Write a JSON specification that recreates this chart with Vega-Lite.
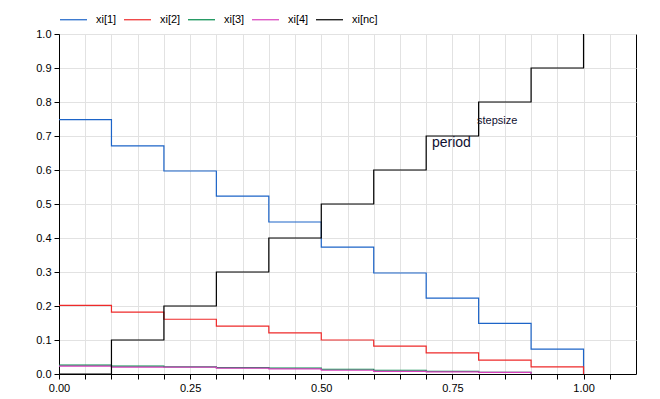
{
  "$schema": "https://vega.github.io/schema/vega-lite/v6.json",
  "width": 577,
  "height": 340,
  "autosize": "none",
  "padding": {"left": 59, "top": 34, "right": 24, "bottom": 25},
  "background": "white",
  "config": {
    "view": {"stroke": "black", "strokeWidth": 1},
    "font": "Liberation Sans",
    "axis": {
      "domainColor": "black",
      "tickColor": "black",
      "gridColor": "#e2e2e2",
      "gridWidth": 1,
      "labelColor": "black",
      "labelFontSize": 11,
      "labelFont": "Liberation Sans",
      "tickSize": 5,
      "title": null
    }
  },
  "datasets": {
    "series": [
      {"s": "xi[1]", "x": 0.0, "y": 0.748},
      {"s": "xi[1]", "x": 0.1, "y": 0.671},
      {"s": "xi[1]", "x": 0.2, "y": 0.597},
      {"s": "xi[1]", "x": 0.3, "y": 0.523},
      {"s": "xi[1]", "x": 0.4, "y": 0.447},
      {"s": "xi[1]", "x": 0.5, "y": 0.373},
      {"s": "xi[1]", "x": 0.6, "y": 0.297},
      {"s": "xi[1]", "x": 0.7, "y": 0.223},
      {"s": "xi[1]", "x": 0.8, "y": 0.149},
      {"s": "xi[1]", "x": 0.9, "y": 0.073},
      {"s": "xi[1]", "x": 1.0, "y": 0.0},
      {"s": "xi[2]", "x": 0.0, "y": 0.202},
      {"s": "xi[2]", "x": 0.1, "y": 0.182},
      {"s": "xi[2]", "x": 0.2, "y": 0.161},
      {"s": "xi[2]", "x": 0.3, "y": 0.141},
      {"s": "xi[2]", "x": 0.4, "y": 0.121},
      {"s": "xi[2]", "x": 0.5, "y": 0.100},
      {"s": "xi[2]", "x": 0.6, "y": 0.082},
      {"s": "xi[2]", "x": 0.7, "y": 0.062},
      {"s": "xi[2]", "x": 0.8, "y": 0.041},
      {"s": "xi[2]", "x": 0.9, "y": 0.021},
      {"s": "xi[2]", "x": 1.0, "y": 0.0},
      {"s": "xi[3]", "x": 0.0, "y": 0.026},
      {"s": "xi[3]", "x": 0.1, "y": 0.023},
      {"s": "xi[3]", "x": 0.2, "y": 0.021},
      {"s": "xi[3]", "x": 0.3, "y": 0.019},
      {"s": "xi[3]", "x": 0.4, "y": 0.017},
      {"s": "xi[3]", "x": 0.5, "y": 0.014},
      {"s": "xi[3]", "x": 0.6, "y": 0.011},
      {"s": "xi[3]", "x": 0.7, "y": 0.008},
      {"s": "xi[3]", "x": 0.8, "y": 0.005},
      {"s": "xi[3]", "x": 0.9, "y": 0.0},
      {"s": "xi[4]", "x": 0.0, "y": 0.023},
      {"s": "xi[4]", "x": 0.1, "y": 0.020},
      {"s": "xi[4]", "x": 0.2, "y": 0.020},
      {"s": "xi[4]", "x": 0.3, "y": 0.017},
      {"s": "xi[4]", "x": 0.4, "y": 0.015},
      {"s": "xi[4]", "x": 0.5, "y": 0.011},
      {"s": "xi[4]", "x": 0.6, "y": 0.008},
      {"s": "xi[4]", "x": 0.7, "y": 0.006},
      {"s": "xi[4]", "x": 0.8, "y": 0.005},
      {"s": "xi[4]", "x": 0.9, "y": 0.0},
      {"s": "xi[nc]", "x": 0.0, "y": 0.0},
      {"s": "xi[nc]", "x": 0.1, "y": 0.1},
      {"s": "xi[nc]", "x": 0.2, "y": 0.2},
      {"s": "xi[nc]", "x": 0.3, "y": 0.3},
      {"s": "xi[nc]", "x": 0.4, "y": 0.4},
      {"s": "xi[nc]", "x": 0.5, "y": 0.5},
      {"s": "xi[nc]", "x": 0.6, "y": 0.6},
      {"s": "xi[nc]", "x": 0.7, "y": 0.7},
      {"s": "xi[nc]", "x": 0.8, "y": 0.8},
      {"s": "xi[nc]", "x": 0.9, "y": 0.9},
      {"s": "xi[nc]", "x": 1.0, "y": 1.0}
    ]
  },
  "encoding": {
    "x": {
      "field": "x", "type": "quantitative",
      "scale": {"domain": [0, 1.1], "nice": false, "zero": false},
      "axis": {
        "values": [0, 0.05, 0.1, 0.15, 0.2, 0.25, 0.3, 0.35, 0.4, 0.45, 0.5, 0.55, 0.6, 0.65, 0.7, 0.75, 0.8, 0.85, 0.9, 0.95, 1.0, 1.05],
        "labelExpr": "abs(datum.value*4 - round(datum.value*4)) < 0.001 ? format(datum.value, '.2f') : ''",
        "labelPadding": 3,
        "labelFlush": false,
        "labelOverlap": false,
        "grid": true
      }
    },
    "y": {
      "field": "y", "type": "quantitative",
      "scale": {"domain": [0, 1.0], "nice": false},
      "axis": {
        "values": [0, 0.1, 0.2, 0.3, 0.4, 0.5, 0.6, 0.7, 0.8, 0.9, 1.0],
        "format": ".1f",
        "labelPadding": 3,
        "labelOverlap": false,
        "grid": true
      }
    }
  },
  "layer": [
    {
      "data": {"name": "series"},
      "mark": {"type": "line", "interpolate": "step-after", "strokeWidth": 1.2, "clip": true},
      "encoding": {
        "color": {
          "field": "s", "type": "nominal",
          "scale": {
            "domain": ["xi[1]", "xi[2]", "xi[3]", "xi[4]", "xi[nc]"],
            "range": ["#1c64c8", "#ee2a2a", "#008a4a", "#d83fbc", "#000000"]
          },
          "legend": {
            "title": null,
            "orient": "none",
            "direction": "horizontal",
            "legendX": 0,
            "legendY": -29,
            "symbolType": "stroke",
            "symbolSize": 729,
            "symbolStrokeWidth": 1.2,
            "labelFontSize": 11,
            "labelFont": "Liberation Sans",
            "labelColor": "black",
            "labelOffset": 8,
            "columnPadding": 4
          }
        }
      }
    },
    {
      "data": {"values": [{"label": "period", "x": 0.711, "y": 0.679}]},
      "mark": {"type": "text", "align": "left", "baseline": "middle", "fontSize": 14, "font": "Liberation Sans", "color": "#101030"},
      "encoding": {
        "text": {"field": "label"}
      }
    },
    {
      "data": {"values": [{"label": "stepsize", "x": 0.797, "y": 0.744}]},
      "mark": {"type": "text", "align": "left", "baseline": "middle", "fontSize": 11, "font": "Liberation Sans", "color": "#101030"},
      "encoding": {
        "text": {"field": "label"}
      }
    }
  ]
}
